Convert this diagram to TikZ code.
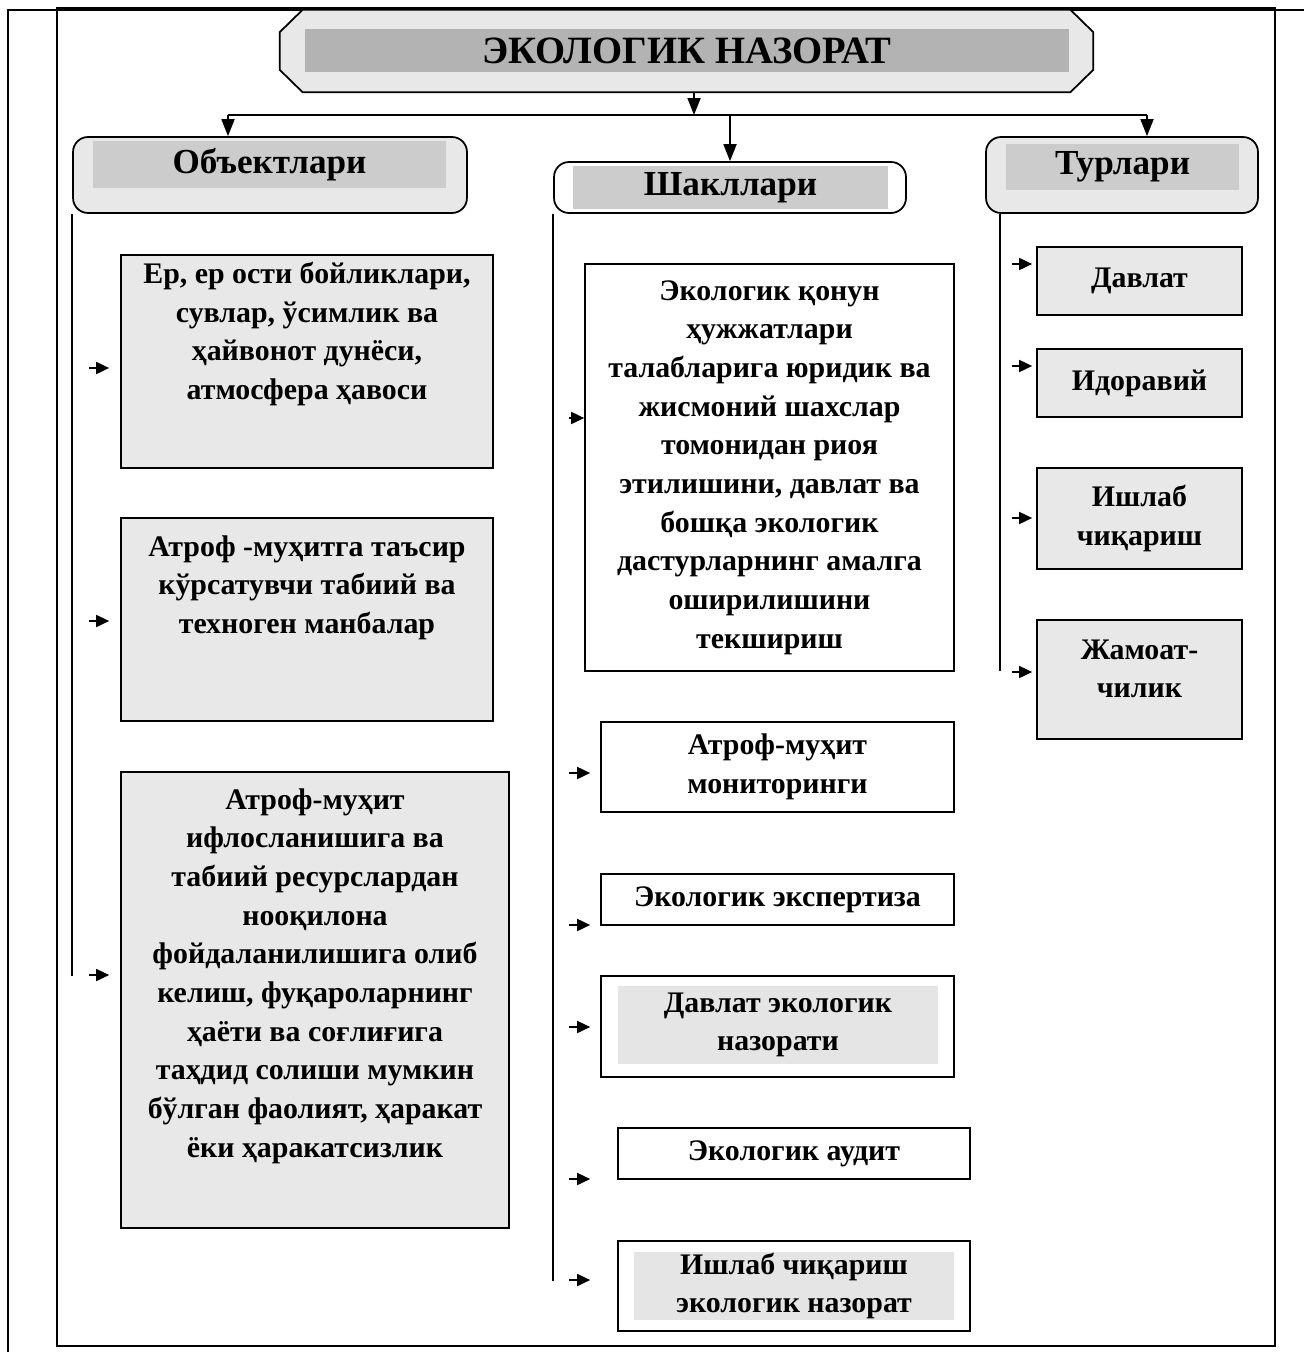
\documentclass[tikz,border=0pt]{standalone}
\usepackage{fontspec}
\setmainfont{Liberation Serif}
\usetikzlibrary{arrows.meta}
\definecolor{boxgray}{HTML}{E8E8E8}
\definecolor{headgray}{HTML}{CCCCCC}
\definecolor{titlegray}{HTML}{B3B3B3}
\definecolor{markgray}{HTML}{E5E5E5}

\begin{document}
\begin{tikzpicture}[x=0.02cm, y=-0.02cm,
        txt/.style = {font=\bfseries\fontsize{17}{22}\selectfont, align=center, inner sep=0pt},
        gbox/.style = {txt, draw, line width=1pt, fill=boxgray},
        wbox/.style = {txt, draw, line width=1pt, fill=white},
        mark box/.style = {txt, fill=markgray},
        head/.style = {draw, line width=1pt, rounded corners=0.3cm, inner sep=0pt},
        headtxt/.style = {fill=headgray, font=\bfseries\fontsize{20}{24}\selectfont, inner sep=0pt},
        bigarr/.style = {-{Triangle[length=0.34cm,width=0.26cm]}, line width=1pt},
        sarr/.style = {-{Triangle[length=0.26cm,width=0.24cm]}, line width=1pt},
        bus/.style = {line width=1pt}]
    \useasboundingbox (0,0) rectangle (1304,1352);
    \draw[line width=0.8pt] (57,8) rectangle (1275,1346);
    \draw[line width=1.4pt] (8,1352) -- (8,10) -- (1304,10);

    \node[minimum width=16.26cm, minimum height=1.64cm, inner sep=0pt] (title) at (686.5,51) {};
    \draw[line width=1pt, fill=boxgray] ([xshift=0.46cm]title.north west) -- ([xshift=-0.46cm]title.north east)
        -- ([yshift=-0.45cm]title.north east) -- ([yshift=0.45cm]title.south east)
        -- ([xshift=-0.46cm]title.south east) -- ([xshift=0.46cm]title.south west)
        -- ([yshift=0.45cm]title.south west) -- ([yshift=-0.45cm]title.north west) -- cycle;
    \node[fill=titlegray, minimum width=15.28cm, minimum height=0.86cm, inner sep=0pt,
        font=\bfseries\fontsize{22}{26}\selectfont] (titletxt) at (687,50.5) {ЭКОЛОГИК НАЗОРАТ};

    \node[head, fill=boxgray, minimum width=7.88cm, minimum height=1.52cm] (obj) at (270,175) {};
    \node[headtxt, minimum width=7.06cm, minimum height=0.94cm] (objtxt) at (269.5,164.5) {Объектлари};
    \node[head, fill=white, minimum width=7.04cm, minimum height=1.02cm] (shk) at (730,187.5) {};
    \node[headtxt, minimum width=6.3cm, minimum height=0.86cm] (shktxt) at (730.5,187.5) {Шакллари};
    \node[head, fill=boxgray, minimum width=5.44cm, minimum height=1.52cm] (tur) at (1122,175) {};
    \node[headtxt, minimum width=4.66cm, minimum height=0.92cm] (turtxt) at (1122.5,167) {Турлари};

    \coordinate (hl) at (228,115);
    \coordinate (hr) at (1147,115);
    \coordinate (hm) at (694,115);
    \draw[bus] (hl) -- (hr);
    \draw[bigarr] (title.south -| hm) -- (hm);
    \draw[bigarr] (hl) -- (hl |- obj.north);
    \draw[bigarr] (hr) -- (hr |- tur.north);
    \draw[bigarr] (shk.north |- hl) -- (shk.north);

    \node[gbox, minimum width=7.44cm, minimum height=4.26cm] (o1) at (307,361.5) {};
    \node[txt] (o1txt) at (307,334) {Ер, ер ости бойликлари,\\ сувлар, ўсимлик ва\\ ҳайвонот дунёси,\\ атмосфера ҳавоси};
    \node[gbox, minimum width=7.44cm, minimum height=4.06cm] (o2) at (307,619.5) {};
    \node[txt] (o2txt) at (307,587.5) {Атроф -муҳитга таъсир\\ кўрсатувчи табиий ва\\ техноген манбалар};
    \node[gbox, minimum width=7.76cm, minimum height=9.12cm] (o3) at (315,1000) {};
    \node[txt] (o3txt) at (315,976) {Атроф-муҳит\\ ифлосланишига ва\\ табиий ресурслардан\\ нооқилона\\ фойдаланилишига олиб\\ келиш, фуқароларнинг\\ ҳаёти ва соғлиғига\\ таҳдид солиши мумкин\\ бўлган фаолият, ҳаракат\\ ёки ҳаракатсизлик};

    \node[wbox, minimum width=7.38cm, minimum height=8.14cm] (s1) at (769.5,467.5) {Экологик қонун\\ ҳужжатлари\\ талабларига юридик ва\\ жисмоний шахслар\\ томонидан риоя\\ этилишини, давлат ва\\ бошқа экологик\\ дастурларнинг амалга\\ оширилишини\\ текшириш};
    \node[wbox, minimum width=7.06cm, minimum height=1.8cm] (s2) at (777.5,767) {Атроф-муҳит\\ мониторинги};
    \node[wbox, minimum width=7.06cm, minimum height=1.02cm] (s3) at (777.5,899.5) {Экологик экспертиза};
    \node[wbox, minimum width=7.06cm, minimum height=2.02cm] (s4) at (777.5,1026.5) {};
    \node[mark box, minimum width=6.4cm, minimum height=1.56cm] (s4txt) at (778,1025) {Давлат экологик\\ назорати};
    \node[wbox, minimum width=7.04cm, minimum height=1.02cm] (s5) at (794,1153.5) {Экологик аудит};
    \node[wbox, minimum width=7.04cm, minimum height=1.8cm] (s6) at (794,1286) {};
    \node[mark box, minimum width=6.4cm, minimum height=1.36cm] (s6txt) at (794,1286) {Ишлаб чиқариш\\ экологик назорат};

    \node[gbox, minimum width=4.1cm, minimum height=1.36cm] (t1) at (1139.5,281) {Давлат};
    \node[gbox, minimum width=4.1cm, minimum height=1.36cm] (t2) at (1139.5,383) {Идоравий};
    \node[gbox, minimum width=4.1cm, minimum height=2.02cm] (t3) at (1139.5,518.5) {Ишлаб\\ чиқариш};
    \node[gbox, minimum width=4.1cm, minimum height=2.38cm] (t4) at (1139.5,679.5) {};
    \node[txt] (t4txt) at (1139.5,669) {Жамоат-\\ чилик};

    \draw[bus] (obj.south west) -- ++(0,762);
    \draw[bus] (shk.south west) -- ++(0,1067);
    \draw[bus] ([xshift=0.3cm]tur.south west) -- ++(0,457);

    \foreach \b/\y in {o1/368, o2/621, o3/975}
        \draw[sarr, shorten >=0.22cm] (obj.south west |- 0,\y) ++(17,0) -- (\b.west |- 0,\y);
    \foreach \b/\y/\s in {s1/418/0, s2/773/0.2, s3/925/0.2, s4/1027/0.2, s5/1179/0.54, s6/1280/0.54}
        \draw[sarr, shorten >=\s cm] (shk.south west |- 0,\y) ++(16,0) -- (\b.west |- 0,\y);
    \foreach \b/\y in {t1/264, t2/366, t3/518, t4/672}
        \draw[sarr, shorten >=0.08cm] (tur.south west |- 0,\y) ++(27,0) -- (\b.west |- 0,\y);
\end{tikzpicture}
\end{document}
